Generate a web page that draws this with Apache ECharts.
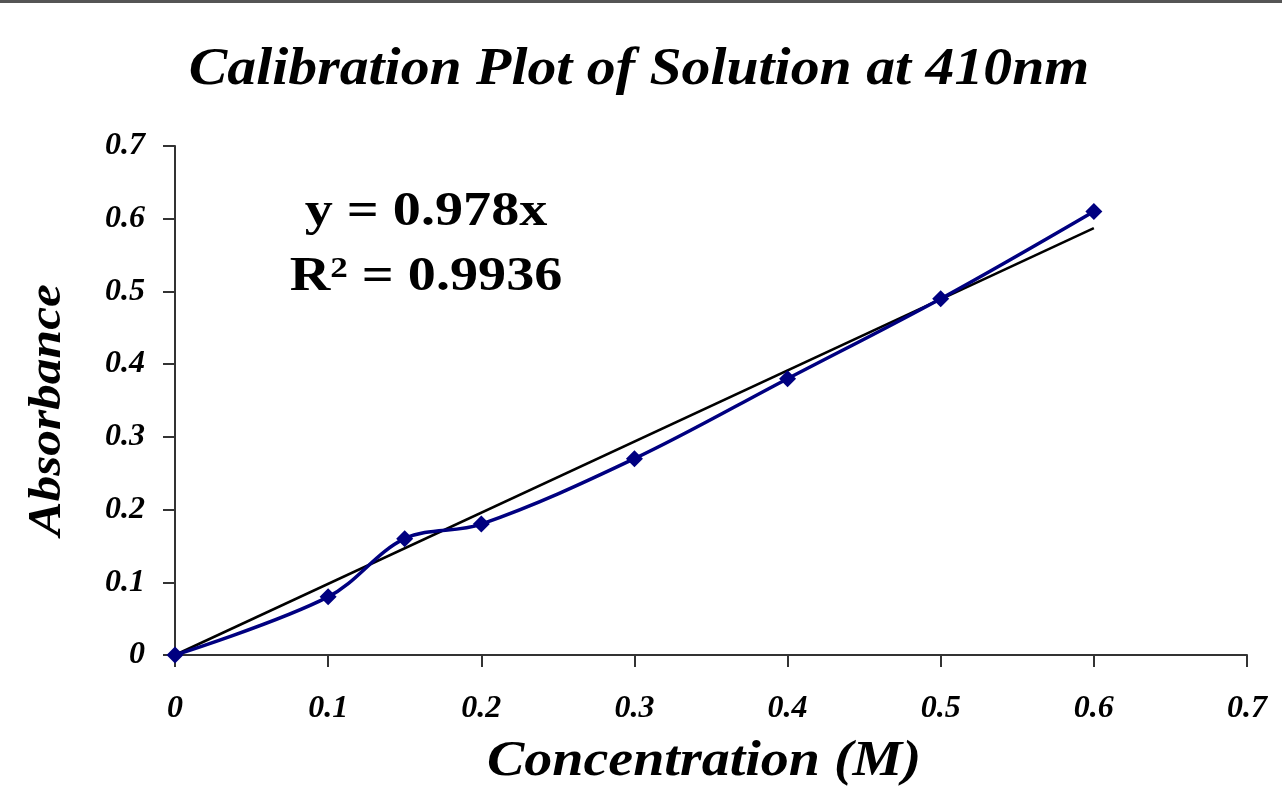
<!DOCTYPE html>
<html><head><meta charset="utf-8">
<script src="https://cdn.jsdelivr.net/npm/echarts@6/dist/echarts.min.js"></script>
<style>html,body{margin:0;padding:0;background:#fff}#c{width:1282px;height:803px}</style>
</head><body><div id="c"></div>
<script>
const concentration = [0, 0.1, 0.15, 0.2, 0.3, 0.4, 0.5, 0.6];
const absorbance = [0, 0.08, 0.16, 0.18, 0.27, 0.38, 0.49, 0.61];
const trendX = [0, 0.6];
const trendY = [0, 0.587];
const titleText = 'Calibration Plot of Solution at 410nm';
const xName = 'Concentration (M)';
const yName = 'Absorbance';
const eqLine1 = 'y = 0.978x';
const eqLine2 = 'R{s|2} = 0.9936';

const font = '"Liberation Serif", "Times New Roman", serif';
const chart = echarts.init(document.getElementById('c'));
const labelStyle = {fontFamily: font, fontStyle: 'italic', fontWeight: 'bold', fontSize: 32, color: '#000'};
chart.setOption({
  animation: false,
  backgroundColor: '#fff',
  graphic: [
    {type: 'rect', shape: {x: 0, y: 0, width: 1282, height: 3}, style: {fill: '#555'}, silent: true},
    {type: 'text', x: 639, y: 70, scaleX: 1.09, style: {text: titleText, font: 'italic bold 53px ' + font, fill: '#000', align: 'center', verticalAlign: 'middle'}},
    {type: 'text', x: 426, y: 213, scaleX: 1.17, style: {text: eqLine1, font: 'bold 48px ' + font, fill: '#000', align: 'center', verticalAlign: 'middle'}},
    {type: 'text', x: 426, y: 278, scaleX: 1.17, style: {text: eqLine2, font: 'bold 48px ' + font, fill: '#000', align: 'center', verticalAlign: 'middle',
      rich: {s: {fontSize: 30, fontWeight: 'bold', fontFamily: font, verticalAlign: 'top', padding: [0,0,16,0]}}}},
    {type: 'text', x: 704, y: 762, scaleX: 1.12, style: {text: xName, font: 'italic bold 50px ' + font, fill: '#000', align: 'center', verticalAlign: 'middle'}},
    {type: 'text', x: 48, y: 410, rotation: Math.PI / 2, scaleX: 1.12, style: {text: yName, font: 'italic bold 46px ' + font, fill: '#000', align: 'center', verticalAlign: 'middle'}}
  ],
  grid: {left: 175, right: 35, top: 146, bottom: 148, containLabel: false},
  xAxis: {
    type: 'value', min: 0, max: 0.7, interval: 0.1,
    axisLine: {show: true, lineStyle: {color: '#333', width: 2}},
    axisTick: {show: true, inside: false, length: 12, lineStyle: {color: '#333', width: 2}},
    axisLabel: Object.assign({margin: 38, formatter: v => String(+v.toFixed(1))}, labelStyle),
    splitLine: {show: false}
  },
  yAxis: {
    type: 'value', min: 0, max: 0.7, interval: 0.1,
    axisLine: {show: true, lineStyle: {color: '#333', width: 2}},
    axisTick: {show: true, inside: false, length: 12, lineStyle: {color: '#333', width: 2}},
    axisLabel: Object.assign({margin: 30, formatter: v => String(+v.toFixed(1))}, labelStyle),
    splitLine: {show: false}
  },
  series: [
    {
      type: 'line', data: trendX.map((x, i) => [x, trendY[i]]),
      showSymbol: false, symbol: 'none', lineStyle: {color: '#000', width: 2.5}, z: 2
    },
    {
      type: 'line', data: concentration.map((x, i) => [x, absorbance[i]]),
      smooth: 0.35, symbol: 'diamond', symbolSize: 17, showSymbol: true,
      itemStyle: {color: '#000080'}, lineStyle: {color: '#000080', width: 3.5}, z: 3
    }
  ]
});
</script></body></html>
